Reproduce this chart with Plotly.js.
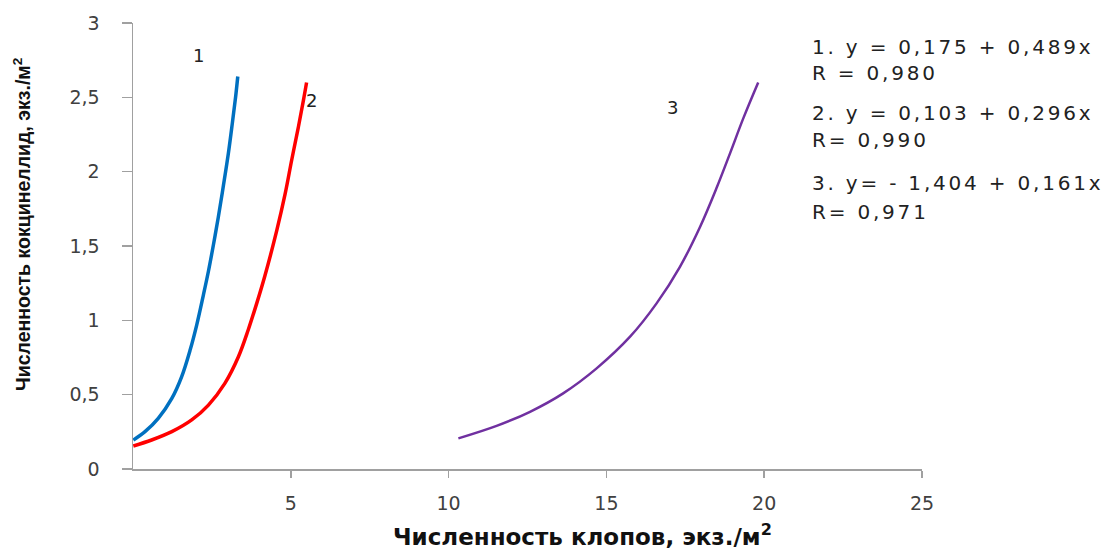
<!DOCTYPE html>
<html>
<head>
<meta charset="utf-8">
<script src="https://cdn.plot.ly/plotly-3.0.1.min.js"></script>
<style>html,body{margin:0;padding:0;background:#fff;}#chart{width:1103px;height:552px;}</style>
</head>
<body>
<div id="chart"></div>
<script>
// Curve 1 (blue)
const x1 = [0.01, 0.38, 0.80, 1.23, 1.54, 1.81, 2.02, 2.23, 2.39, 2.55, 2.70, 2.86, 3.02, 3.15, 3.25, 3.32];
const y1 = [0.195, 0.251, 0.341, 0.475, 0.62, 0.80, 0.97, 1.17, 1.33, 1.51, 1.69, 1.90, 2.12, 2.33, 2.50, 2.64];
// Curve 2 (red)
const x2 = [0.01, 0.59, 1.23, 1.86, 2.39, 2.91, 3.34, 3.65, 3.92, 4.18, 4.55, 4.82, 5.03, 5.24, 5.40, 5.50];
const y2 = [0.155, 0.195, 0.251, 0.33, 0.43, 0.576, 0.755, 0.935, 1.114, 1.30, 1.60, 1.85, 2.08, 2.30, 2.48, 2.60];
// Curve 3 (purple)
const x3 = [10.31, 11.52, 12.58, 13.63, 14.69, 15.75, 16.59, 17.33, 17.97, 18.49, 18.92, 19.34, 19.81];
const y3 = [0.206, 0.290, 0.385, 0.509, 0.677, 0.89, 1.114, 1.36, 1.63, 1.89, 2.125, 2.36, 2.60];

const xTickVals = [5, 10, 15, 20, 25];
const xTickText = ['5', '10', '15', '20', '25'];
const yTickVals = [0, 0.5, 1, 1.5, 2, 2.5, 3];
const yTickText = ['0', '0,5', '1', '1,5', '2', '2,5', '3'];

const curveLabels = ['1', '2', '3'];
const curveLabelX = [2.06, 5.67, 17.08];
const curveLabelY = [2.78, 2.48, 2.43];

const eqLines = ['1. y = 0,175 + 0,489x', 'R = 0,980', '2. y = 0,103 + 0,296x', 'R= 0,990', '3. y= - 1,404 + 0,161x', 'R= 0,971'];
const eqY = [2.838, 2.663, 2.394, 2.212, 1.923, 1.728];
const eqX = 21.45;

const xTitle = 'Численность клопов, экз./м<sup>2</sup>';
const yTitle = 'Численность кокцинеллид, экз./м<sup>2</sup>';

const traces = [
  {x: x1, y: y1, mode: 'lines', line: {color: '#0070C0', width: 3.5, shape: 'spline', smoothing: 1}, showlegend: false, hoverinfo: 'skip'},
  {x: x2, y: y2, mode: 'lines', line: {color: '#FF0000', width: 3.5, shape: 'spline', smoothing: 1}, showlegend: false, hoverinfo: 'skip'},
  {x: x3, y: y3, mode: 'lines', line: {color: '#7030A0', width: 2.5, shape: 'spline', smoothing: 1}, showlegend: false, hoverinfo: 'skip'}
];

const L = 133, R = 181, T = 23, B = 83, W = 1103, H = 552;
const pw = W - L - R, ph = H - T - B;

const annotations = [];
curveLabels.forEach((t, i) => annotations.push({
  x: curveLabelX[i], y: curveLabelY[i], xref: 'x', yref: 'y', text: t, showarrow: false,
  font: {family: 'DejaVu Sans, Verdana, sans-serif', size: 18, color: '#222'}
}));
eqLines.forEach((t, i) => annotations.push({
  x: eqX, y: eqY[i], xref: 'x', yref: 'y', showarrow: false, xanchor: 'left', yanchor: 'middle',
  text: '<span style="letter-spacing:2.8px">' + t + '</span>',
  font: {family: 'DejaVu Sans, Verdana, sans-serif', size: 20, color: '#222'}
}));
annotations.push({
  x: (582 - L) / pw, y: (H - B - 535) / ph, xref: 'paper', yref: 'paper', xanchor: 'center', yanchor: 'middle',
  text: '<b>' + xTitle + '</b>', showarrow: false,
  font: {family: 'DejaVu Sans, sans-serif', size: 23, color: '#111'}
});
annotations.push({
  x: (22 - L) / pw, y: (H - B - 224) / ph, xref: 'paper', yref: 'paper', xanchor: 'center', yanchor: 'middle',
  text: '<b>' + yTitle + '</b>', showarrow: false, textangle: -90,
  font: {family: 'Liberation Sans Narrow, Arial Narrow, Liberation Sans, sans-serif', size: 19.5, color: '#111'}
});

const layout = {
  width: W, height: H,
  margin: {l: L, r: R, t: T, b: B, pad: 0},
  paper_bgcolor: '#fff', plot_bgcolor: '#fff',
  showlegend: false,
  xaxis: {
    range: [0, 25], tickvals: xTickVals, ticktext: xTickText,
    ticks: 'outside', ticklen: 7, tickwidth: 1.5, tickcolor: '#a0a0a0',
    showline: true, linecolor: '#a0a0a0', linewidth: 1.5,
    showgrid: false, zeroline: false, fixedrange: true,
    ticklabelstandoff: 10,
    tickfont: {family: 'DejaVu Sans, Verdana, sans-serif', size: 19, color: '#404040'}
  },
  yaxis: {
    range: [0, 3], tickvals: yTickVals, ticktext: yTickText,
    ticks: 'outside', ticklen: 10, tickwidth: 1.5, tickcolor: '#a0a0a0',
    showline: true, linecolor: '#a0a0a0', linewidth: 1.5,
    showgrid: false, zeroline: false, fixedrange: true,
    ticklabelstandoff: 18,
    tickfont: {family: 'DejaVu Sans, Verdana, sans-serif', size: 19, color: '#404040'}
  },
  annotations: annotations
};

Plotly.newPlot('chart', traces, layout, {displayModeBar: false, staticPlot: true});
</script>
</body>
</html>
